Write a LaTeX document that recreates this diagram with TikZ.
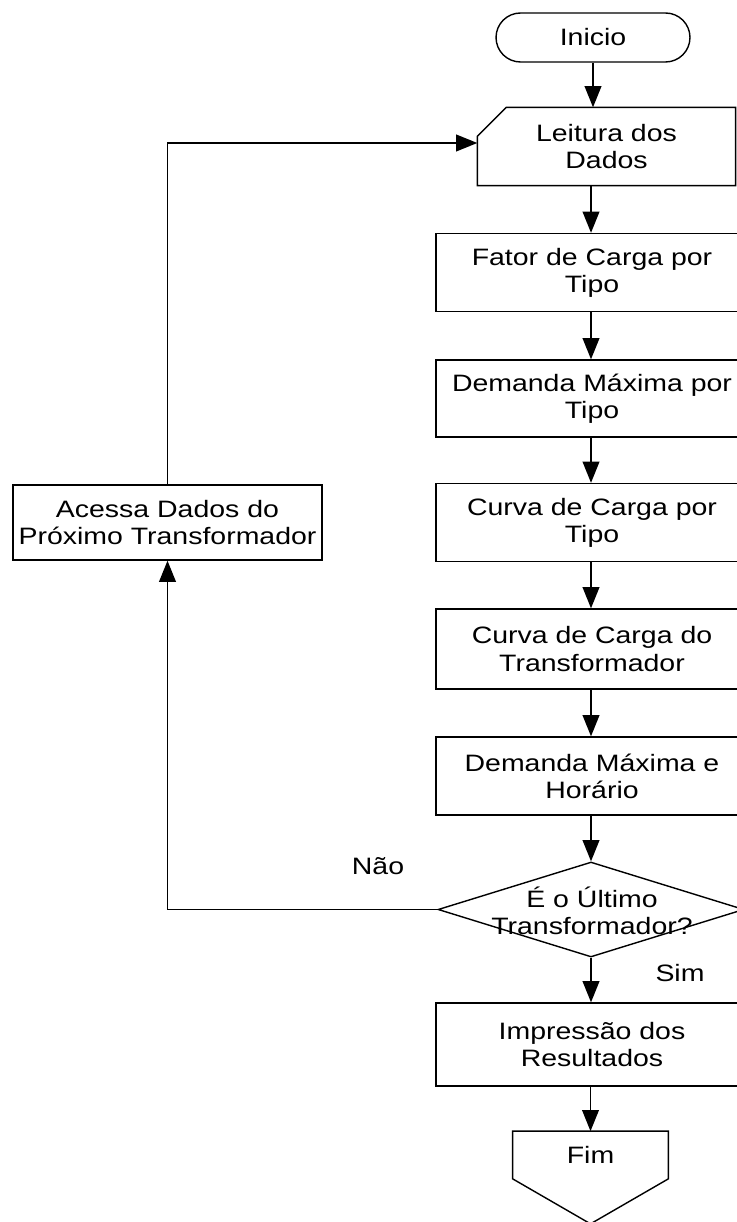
\documentclass[tikz,border=0pt]{standalone}
\usepackage{fontspec}
\setmainfont{Liberation Sans}[FakeStretch=1.2]
\usepackage{tikz}
\usetikzlibrary{shapes,arrows,positioning,calc,arrows.meta}

\begin{document}
\begin{tikzpicture}[x=0.02cm, y=-0.02cm,
        font=\fontsize{13.5pt}{15.5pt}\selectfont,
        box/.style={draw, rectangle, minimum width=6.24cm, minimum height=1.56cm, align=center, line width=0.8pt},
        terminal/.style={draw, rectangle, rounded corners=0.49cm, minimum width=3.88cm, minimum height=0.98cm, line width=0.8pt},
        decision/.style={draw, diamond, minimum width=6.12cm, minimum height=1.9cm, inner sep=0pt, line width=0.8pt},
        arrow/.style={-{Triangle[length=12pt,width=9.5pt]}, line width=0.8pt}
    ]
        \useasboundingbox (0,0) rectangle (736,1222);

        % Main column
        \node (inicio) [terminal] at (593, 37.5) {Inicio};
        \node (leitura) [box, draw=none, minimum width=5.14cm, minimum height=1.54cm] at (606.5, 146.5) {Leitura dos\\Dados};
        \draw [line width=0.8pt] (leitura.south west) -- (leitura.south east) -- (leitura.north east)
            -- ([xshift=0.58cm]leitura.north west) -- ([yshift=-0.58cm]leitura.north west) -- cycle;
        \node (fator) [box] at (592, 272.5) {Fator de Carga por\\Tipo};
        \node (demtipo) [box, minimum height=1.54cm] at (592, 398.5) {Demanda Máxima por\\Tipo};
        \node (curvatipo) [box] at (592, 522.5) {Curva de Carga por\\Tipo};
        \node (curvatrafo) [box, minimum height=1.6cm] at (592, 649) {Curva de Carga do\\Transformador};
        \node (demhora) [box] at (592, 776) {Demanda Máxima e\\Horário};
        \node (decisao) [decision] at (591, 909.5) {};
        \node (pergunta) [align=center] at (592, 911) {É o Último\\Transformador?};
        \node (impressao) [box, minimum height=1.66cm] at (592, 1044.5) {Impressão dos\\Resultados};
        \node (fim) [minimum width=3.1cm, minimum height=0.94cm] at (590.5, 1155) {Fim};
        \draw [line width=0.8pt] (fim.south west) -- (fim.north west) -- (fim.north east)
            -- (fim.south east) -- ([yshift=-0.9cm]fim.south) -- cycle;

        % Loop
        \node (acessa) [box, minimum width=6.18cm, minimum height=1.5cm, inner xsep=1.5pt] at (167.5, 522.5) {Acessa Dados do\\Próximo Transformador};

        \draw [arrow] (inicio.south) -- (inicio.south |- leitura.north);
        \draw [arrow] (leitura.south -| decisao.north) -- (fator.north -| decisao.north);
        \draw [arrow] (fator.south -| decisao.north) -- (demtipo.north -| decisao.north);
        \draw [arrow] (demtipo.south -| decisao.north) -- (curvatipo.north -| decisao.north);
        \draw [arrow] (curvatipo.south -| decisao.north) -- (curvatrafo.north -| decisao.north);
        \draw [arrow] (curvatrafo.south -| decisao.north) -- (demhora.north -| decisao.north);
        \draw [arrow] (demhora.south -| decisao.north) -- (decisao.north);
        \draw [arrow] (decisao.south) -- (impressao.north -| decisao.south);
        \draw [arrow] (impressao.south -| fim.north) -- (fim.north);

        \draw [arrow] (decisao.west) -| (acessa.south);
        \draw [arrow] (acessa.north) |- ([yshift=0.07cm]leitura.west);

        \node (nao) at (378, 866) {Não};
        \node (sim) at (680, 973) {Sim};
    \end{tikzpicture}
\end{document}
